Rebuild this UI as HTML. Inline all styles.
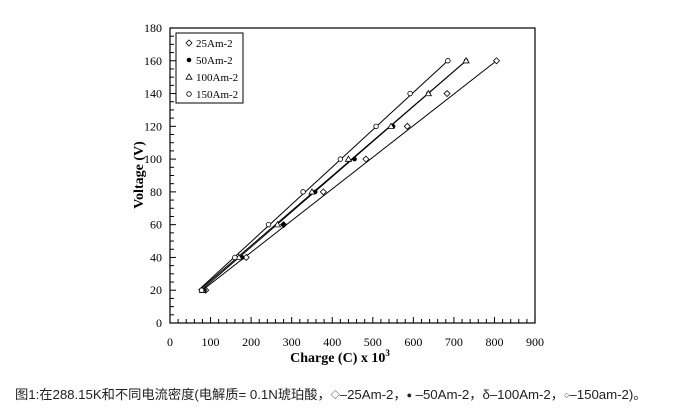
<!DOCTYPE html>
<html><head><meta charset="utf-8"><style>
body{margin:0;background:#fff;width:690px;height:420px;overflow:hidden;position:relative}
#cap{position:absolute;left:15px;top:384px;font:13.3px "Liberation Sans","Noto Sans CJK SC",sans-serif;color:#222;white-space:nowrap;letter-spacing:-0.05px}
#cap small{font-size:9px;vertical-align:1px}
</style></head><body>
<svg id="s" width="690" height="420" style="position:absolute;left:0;top:0" font-family="Liberation Serif, serif"></svg>
<div id="cap">图1:在288.15K和不同电流密度(电解质= 0.1N琥珀酸，<small>◇</small>–25Am-2，<small>●</small> –50Am-2，δ–100Am-2，<small>○</small>–150am-2)。</div>
<script>
const s=document.getElementById('s');let h='';
const X=v=>170+v*0.4056, Y=v=>323-v*1.639;
h+=`<rect x="170" y="28" width="365" height="295" fill="none" stroke="#000" stroke-width="1.2"/>`;
for(let v=0;v<=900;v+=20){const x=X(v);h+=`<line x1="${x}" y1="323" x2="${x}" y2="${v%100?319:317}" stroke="#000"/>`;}
for(let v=0;v<=900;v+=100)h+=`<text x="${X(v)}" y="346" font-size="12" text-anchor="middle">${v}</text>`;
for(let v=0;v<=180;v+=5){const y=Y(v);h+=`<line x1="170" y1="${y}" x2="${v%20?174:176}" y2="${y}" stroke="#000"/>`;}
for(let v=0;v<=180;v+=20)h+=`<text x="162" y="${Y(v)+4}" font-size="12" text-anchor="end">${v}</text>`;
h+=`<text x="340" y="362" font-size="14" font-weight="bold" text-anchor="middle">Charge (C) x 10<tspan dy="-6" font-size="9">3</tspan></text>`;
h+=`<text transform="translate(143,175) rotate(-90)" font-size="14" font-weight="bold" text-anchor="middle">Voltage (V)</text>`;
const V=[20,40,60,80,100,120,140,160];
const D=[
 ['d',[88,188,280,378,483,585,683,805]],
 ['f',[85,178,280,358,455,550,637,730]],
 ['t',[80,170,265,350,440,545,637,730]],
 ['o',[78,160,243,328,420,508,592,685]]];
for(const [k,xs] of D){
 h+=`<line x1="${X(xs[0]-8)}" y1="${Y(20)}" x2="${X(xs[7])}" y2="${Y(160)}" stroke="#000" stroke-width="1"/>`;
}
for(const [k,xs] of D) xs.forEach((x,i)=>{h+=mk(k,X(x),Y(V[i]));});
function mk(k,x,y){
 if(k=='d')return `<polygon points="${x},${y-3} ${x+3},${y} ${x},${y+3} ${x-3},${y}" fill="#fff" stroke="#000" stroke-width="0.8"/>`;
 if(k=='f')return `<circle cx="${x}" cy="${y}" r="2.3" fill="#000"/>`;
 if(k=='t')return `<polygon points="${x},${y-3} ${x+3},${y+2.2} ${x-3},${y+2.2}" fill="#fff" stroke="#000" stroke-width="0.8"/>`;
 return `<circle cx="${x}" cy="${y}" r="2.3" fill="#fff" stroke="#000" stroke-width="0.8"/>`;
}
h+=`<rect x="176" y="33" width="67" height="70" fill="#fff" stroke="#000"/>`;
const L=[['d','25Am-2'],['f','50Am-2'],['t','100Am-2'],['o','150Am-2']];
L.forEach(([k,t],i)=>{const y=44+i*17;h+=mk(k,189,y-1)+`<text x="196" y="${y+3}" font-size="11">${t}</text>`;});
s.innerHTML=h;
</script>
</body></html>
